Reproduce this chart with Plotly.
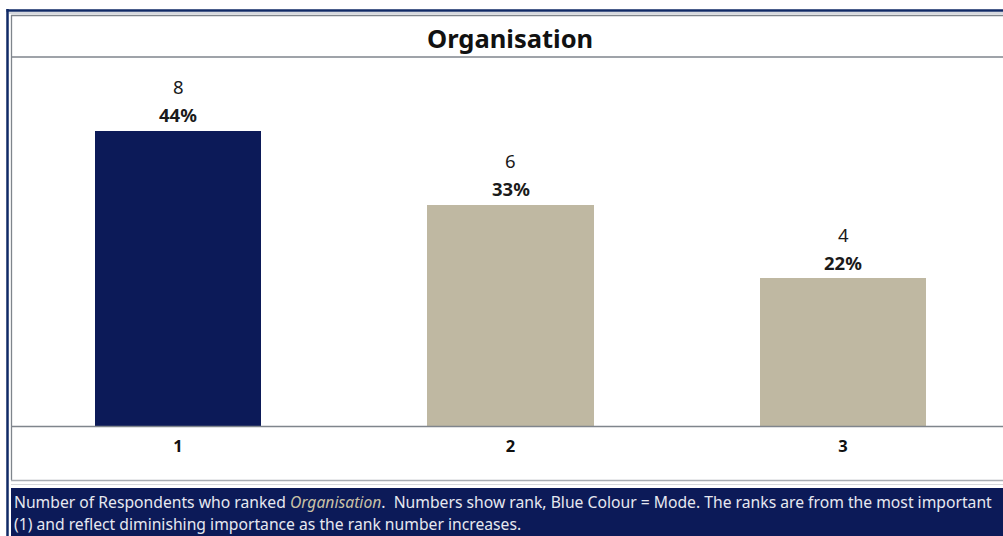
import plotly.graph_objects as go

W, H = 1003, 536

# Rank counts for "Organisation"
ranks = [1, 2, 3]
counts = [8, 6, 4]
percents = [44, 33, 22]
mode_rank = 1

title_text = "Organisation"
footer_line1 = ("Number of Respondents who ranked <i><span style='color:#c9c1a6'>Organisation</span></i>.  "
                "Numbers show rank, Blue Colour = Mode. The ranks are from the most important")
footer_line2 = "(1) and reflect diminishing importance as the rank number increases."

NAVY = "#0c1a58"
TAN = "#bfb8a2"
GRID = "#7f858c"
FONT = "Noto Sans"

colors = [NAVY if r == mode_rank else TAN for r in ranks]


def px_x(p):
    return p / W


def px_y(p):
    return 1 - p / H


# plot area in pixels
PLOT_L, PLOT_R, PLOT_T, PLOT_B = 11, W, 57, 426
CENTER0, STEP = 178, 332.5
x_lo = ranks[0] + (PLOT_L - CENTER0) / STEP
x_hi = ranks[0] + (PLOT_R - CENTER0) / STEP

fig = go.Figure(
    go.Bar(
        x=ranks,
        y=counts,
        width=0.5,
        marker=dict(color=colors, line=dict(width=0)),
        hoverinfo="skip",
    )
)

annotations = []
for r, c, p in zip(ranks, counts, percents):
    annotations.append(dict(x=r, y=c, xref="x", yref="y", text=f"<b>{p}%</b>",
                            showarrow=False, yshift=16,
                            font=dict(family=FONT, size=18.5, color="#1a1a1a")))
    annotations.append(dict(x=r, y=c, xref="x", yref="y", text=str(c),
                            showarrow=False, yshift=44,
                            font=dict(family=FONT, size=18.5, color="#1a1a1a")))

annotations.append(dict(x=px_x(510), y=px_y(38), xref="paper", yref="paper",
                        text=f"<b>{title_text}</b>", showarrow=False,
                        xanchor="center", yanchor="middle",
                        font=dict(family=FONT, size=25.5, color="#111111")))
annotations.append(dict(x=px_x(11.5), y=px_y(502), xref="paper", yref="paper",
                        text=footer_line1, showarrow=False,
                        xanchor="left", yanchor="middle",
                        font=dict(family=FONT, size=15.7, color="#e6e8f0")))
annotations.append(dict(x=px_x(11.5), y=px_y(524), xref="paper", yref="paper",
                        text=footer_line2, showarrow=False,
                        xanchor="left", yanchor="middle",
                        font=dict(family=FONT, size=15.7, color="#e6e8f0")))

shapes = [
    # footer band
    dict(type="rect", xref="paper", yref="paper", x0=px_x(11), x1=1.0,
         y0=0, y1=px_y(488), fillcolor=NAVY, line=dict(width=0), layer="below"),
    # outer dark frame
    dict(type="line", xref="paper", yref="paper", x0=px_x(7.5), x1=px_x(7.5),
         y0=0, y1=px_y(9), line=dict(color="#102a66", width=2.5)),
    dict(type="line", xref="paper", yref="paper", x0=px_x(6.5), x1=1.0,
         y0=px_y(10.5), y1=px_y(10.5), line=dict(color="#102a66", width=2.5)),
    dict(type="line", xref="paper", yref="paper", x0=px_x(9), x1=1.0,
         y0=px_y(13), y1=px_y(13), line=dict(color="#c8ccd4", width=1.5)),
    # inner gray frame
    dict(type="line", xref="paper", yref="paper", x0=px_x(11.5), x1=px_x(11.5),
         y0=px_y(480), y1=px_y(15), line=dict(color=GRID, width=1.3)),
    dict(type="line", xref="paper", yref="paper", x0=px_x(11), x1=1.0,
         y0=px_y(15.5), y1=px_y(15.5), line=dict(color=GRID, width=1.3)),
    dict(type="line", xref="paper", yref="paper", x0=px_x(11), x1=1.0,
         y0=px_y(57), y1=px_y(57), line=dict(color=GRID, width=1.3)),
    dict(type="line", xref="paper", yref="paper", x0=px_x(11), x1=1.0,
         y0=px_y(426.5), y1=px_y(426.5), line=dict(color=GRID, width=1.3)),
    dict(type="line", xref="paper", yref="paper", x0=px_x(11), x1=1.0,
         y0=px_y(480.5), y1=px_y(480.5), line=dict(color="#a9adb3", width=1.5)),
    dict(type="line", xref="paper", yref="paper", x0=px_x(11), x1=1.0,
         y0=px_y(484.5), y1=px_y(484.5), line=dict(color="#d6d8dc", width=1.2)),
]

fig.update_layout(
    width=W, height=H,
    margin=dict(l=0, r=0, t=0, b=0),
    paper_bgcolor="white",
    plot_bgcolor="white",
    showlegend=False,
    bargap=0,
    xaxis=dict(domain=[px_x(PLOT_L), 1.0], range=[x_lo, x_hi],
               tickvals=ranks, ticktext=[f"<b>{r}</b>" for r in ranks],
               tickfont=dict(family=FONT, size=16.5, color="#111111"),
               showgrid=False, zeroline=False, showline=False, ticks="",
               ticklabelstandoff=8, fixedrange=True),
    yaxis=dict(domain=[px_y(PLOT_B), px_y(PLOT_T)], range=[0, 10],
               showgrid=False, zeroline=False, showline=False,
               showticklabels=False, ticks="", fixedrange=True),
    annotations=annotations,
    shapes=shapes,
)

fig.write_html("out.html", config={"displayModeBar": False})
